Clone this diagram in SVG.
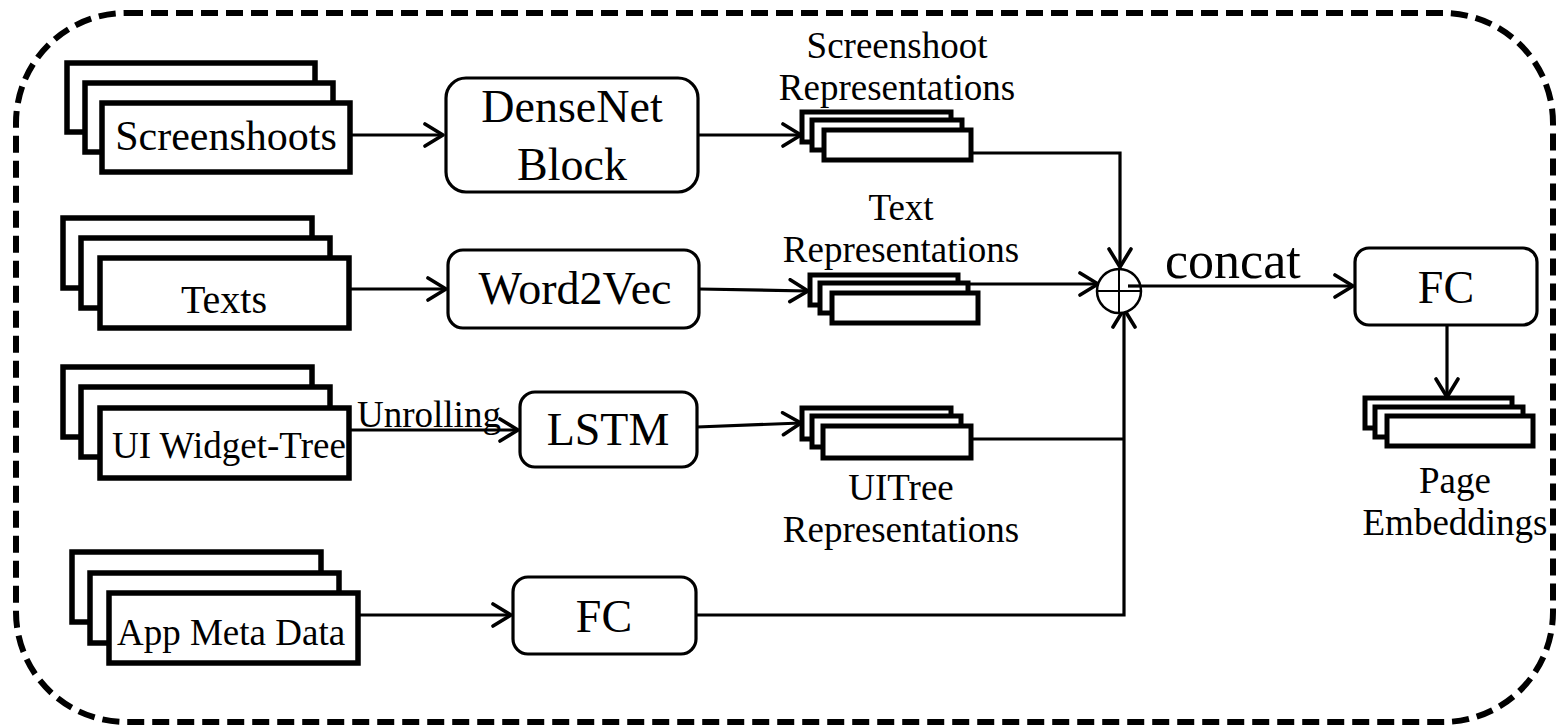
<svg xmlns="http://www.w3.org/2000/svg" width="1559" height="726" viewBox="0 0 1559 726">
  <style>
    text { font-family: "Liberation Serif", "Times New Roman", serif; fill: #000; }
    .frame { fill: none; stroke: #000; stroke-width: 6; stroke-dasharray: 17 8; }
    .sheet { fill: #fff; stroke: #000; stroke-width: 5.5; }
    .vec { fill: #fff; stroke: #000; stroke-width: 5; }
    .box { fill: #fff; stroke: #000; stroke-width: 3.2; }
    .wire { fill: none; stroke: #000; stroke-width: 3.2; }
    .arrow { fill: none; stroke: #000; stroke-width: 3.2; marker-end: url(#chev); }
    .big { font-size: 46px; text-anchor: middle; }
    .lbl { font-size: 37px; text-anchor: middle; }
  </style>
  <defs>
    <marker id="chev" viewBox="-22 -13 24 26" refX="0" refY="0" markerWidth="24" markerHeight="26" markerUnits="userSpaceOnUse" orient="auto">
      <path d="M-18,-11 L0,0 L-18,11" fill="none" stroke="#000" stroke-width="3.6" stroke-linecap="round" stroke-linejoin="round"/>
    </marker>
  </defs>

  <rect width="1559" height="726" fill="#fff"/>

  <!-- dashed outer frame -->
  <rect class="frame" x="16" y="13" width="1537" height="709" rx="110" ry="110"/>

  <!-- connectors -->
  <g id="connectors">
    <line class="arrow" x1="350" y1="135" x2="443" y2="135"/>
    <line class="arrow" x1="698" y1="135" x2="801" y2="135"/>
    <polyline class="arrow" points="971,153 1120,153 1120,267"/>
    <line class="arrow" x1="349" y1="289" x2="446" y2="289"/>
    <line class="arrow" x1="699" y1="289" x2="808" y2="291"/>
    <line class="arrow" x1="958" y1="284" x2="1098" y2="284"/>
    <line class="arrow" x1="349" y1="430" x2="518" y2="430"/>
    <line class="arrow" x1="697" y1="427" x2="801" y2="423"/>
    <polyline class="wire" points="971,439 1124,439"/>
    <line class="arrow" x1="358" y1="615" x2="511" y2="615"/>
    <polyline class="arrow" points="696,615 1124,615 1124,309"/>
    <line class="arrow" x1="1128" y1="286" x2="1353" y2="286"/>
    <line class="arrow" x1="1447" y1="325" x2="1447" y2="397"/>
  </g>

  <!-- input stacks -->
  <g id="screenshoots">
    <rect class="sheet" x="67" y="63" width="248" height="69"/>
    <rect class="sheet" x="85" y="83" width="248" height="69"/>
    <rect class="sheet" x="102" y="103" width="248" height="69"/>
    <text x="226" y="150" font-size="42" text-anchor="middle">Screenshoots</text>
  </g>
  <g id="texts">
    <rect class="sheet" x="63" y="218" width="249" height="70"/>
    <rect class="sheet" x="81" y="238" width="249" height="70"/>
    <rect class="sheet" x="100" y="258" width="249" height="70"/>
    <text x="224" y="313" font-size="40" text-anchor="middle">Texts</text>
  </g>
  <g id="widget-tree">
    <rect class="sheet" x="63" y="367" width="249" height="70"/>
    <rect class="sheet" x="81" y="387" width="249" height="70"/>
    <rect class="sheet" x="100" y="408" width="249" height="70"/>
    <text x="112" y="458" font-size="37">UI Widget-Tree</text>
  </g>
  <g id="app-meta">
    <rect class="sheet" x="72" y="552" width="249" height="70"/>
    <rect class="sheet" x="90" y="573" width="249" height="70"/>
    <rect class="sheet" x="109" y="593" width="249" height="70"/>
    <text x="117" y="645" font-size="37">App Meta Data</text>
  </g>

  <text id="unrolling" x="357" y="427" font-size="37">Unrolling</text>

  <!-- processing blocks -->
  <g id="densenet">
    <rect class="box" x="446" y="78" width="252" height="114" rx="20"/>
    <text class="big" x="572" y="122" font-size="47">DenseNet</text>
    <text class="big" x="572" y="180" font-size="47">Block</text>
  </g>
  <g id="word2vec">
    <rect class="box" x="448" y="250" width="251" height="78" rx="15"/>
    <text class="big" x="575" y="304" font-size="45">Word2Vec</text>
  </g>
  <g id="lstm">
    <rect class="box" x="520" y="392" width="177" height="75" rx="15"/>
    <text class="big" x="608" y="445">LSTM</text>
  </g>
  <g id="fc-meta">
    <rect class="box" x="513" y="577" width="183" height="77" rx="15"/>
    <text class="big" x="604" y="632">FC</text>
  </g>

  <!-- representation stacks -->
  <g id="screenshoot-reps">
    <rect class="vec" x="802" y="112" width="149" height="30"/>
    <rect class="vec" x="812" y="120" width="150" height="30"/>
    <rect class="vec" x="824" y="130" width="147" height="30"/>
    <text class="lbl" x="897" y="58">Screenshoot</text>
    <text class="lbl" x="897" y="100">Representations</text>
  </g>
  <g id="text-reps">
    <rect class="vec" x="810" y="275" width="148" height="30"/>
    <rect class="vec" x="820" y="283" width="148" height="30"/>
    <rect class="vec" x="832" y="293" width="146" height="30"/>
    <text class="lbl" x="901" y="220">Text</text>
    <text class="lbl" x="901" y="262">Representations</text>
  </g>
  <g id="uitree-reps">
    <rect class="vec" x="802" y="408" width="149" height="31"/>
    <rect class="vec" x="812" y="416" width="149" height="31"/>
    <rect class="vec" x="823" y="426" width="148" height="32"/>
    <text class="lbl" x="901" y="500">UITree</text>
    <text class="lbl" x="901" y="542">Representations</text>
  </g>

  <!-- concatenation node -->
  <g id="concat">
    <circle cx="1119" cy="291" r="22" fill="#fff" stroke="#000" stroke-width="2.5"/>
    <line x1="1119" y1="269" x2="1119" y2="313" stroke="#000" stroke-width="2"/>
    <line x1="1097" y1="291" x2="1141" y2="291" stroke="#000" stroke-width="2"/>
    <line x1="1128" y1="286" x2="1141" y2="286" stroke="#000" stroke-width="3.2"/>
    <text x="1165" y="278" font-size="52">concat</text>
  </g>

  <g id="fc-out">
    <rect class="box" x="1355" y="248" width="182" height="77" rx="14"/>
    <text class="big" x="1446" y="303" font-size="48">FC</text>
  </g>

  <g id="page-embeddings">
    <rect class="vec" x="1365" y="398" width="147" height="30"/>
    <rect class="vec" x="1375" y="407" width="148" height="30"/>
    <rect class="vec" x="1387" y="416" width="146" height="30"/>
    <text class="lbl" x="1455" y="493">Page</text>
    <text class="lbl" x="1455" y="535">Embeddings</text>
  </g>
</svg>
